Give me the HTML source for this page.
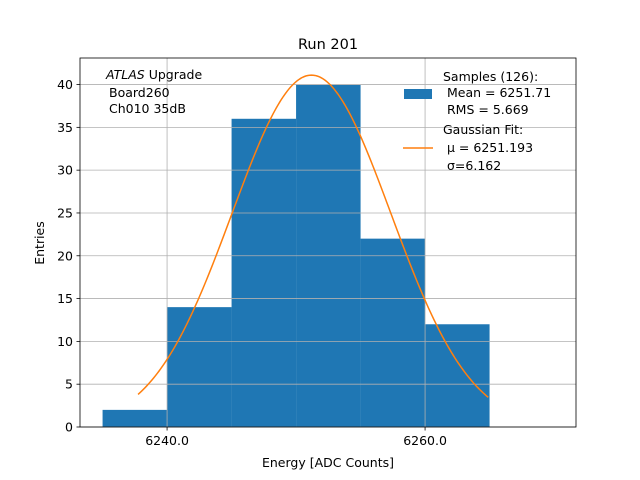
<!DOCTYPE html>
<html><head><meta charset="utf-8"><style>
body{margin:0;background:#fff}
svg{display:block;font-family:"DejaVu Sans","Liberation Sans",sans-serif}
</style></head><body>
<svg id="c" width="640" height="480"></svg>
<script>
const binEdges=[6235,6240,6245,6250,6255,6260,6265];
const binCounts=[2,14,36,40,22,12];
const xTicks=[6240,6260];
const xTickLabels=["6240.0","6260.0"];
const yTicks=[0,5,10,15,20,25,30,35,40];
const fitParams=[41.1,6251.193,6.162];
const fitRange=[6237.75,6264.9];
const NS="http://www.w3.org/2000/svg";
const svg=document.getElementById('c');
const L=80,R=576,T=58,B=427;
const xmin=6233.25,xmax=6271.7,ymin=0,ymax=43.1;
const X=v=>L+(v-xmin)/(xmax-xmin)*(R-L);
const Y=v=>B-(v-ymin)/(ymax-ymin)*(B-T);
function el(t,a,txt){const e=document.createElementNS(NS,t);for(const k in a)e.setAttribute(k,a[k]);if(txt!==undefined)e.textContent=txt;svg.appendChild(e);return e;}
for(let i=0;i<binCounts.length;i++){
const r=el('rect',{x:X(binEdges[i]),y:Y(binCounts[i]),width:X(binEdges[i+1])-X(binEdges[i]),height:B-Y(binCounts[i]),fill:'#1f77b4'});


}
for(const v of yTicks){
const g=el('line',{x1:L,x2:R,y1:Y(v),y2:Y(v),stroke:'#b0b0b0','stroke-width':0.8});


el('line',{x1:L-3.5,x2:L,y1:Y(v),y2:Y(v),stroke:'#000','stroke-width':0.8});
const t=el('text',{x:L-7,y:Y(v)+4.5,'font-size':12.5,'text-anchor':'end'},String(v));


}
xTicks.forEach((v,i)=>{
const g=el('line',{x1:X(v),x2:X(v),y1:T,y2:B,stroke:'#b0b0b0','stroke-width':0.8});


el('line',{x1:X(v),x2:X(v),y1:B,y2:B+3.5,stroke:'#000','stroke-width':0.8});
const t=el('text',{x:X(v),y:B+18,'font-size':12.5,'text-anchor':'middle'},xTickLabels[i]);


});
let pts=[];
for(let k=0;k<=200;k++){const x=fitRange[0]+(fitRange[1]-fitRange[0])*k/200;
const y=fitParams[0]*Math.exp(-Math.pow(x-fitParams[1],2)/(2*fitParams[2]*fitParams[2]));
pts.push(X(x).toFixed(2)+','+Y(y).toFixed(2));}
const fl=el('polyline',{points:pts.join(' '),fill:'none',stroke:'#ff7f0e','stroke-width':1.5});


const fr=el('rect',{x:L,y:T,width:R-L,height:B-T,fill:'none',stroke:'#000','stroke-width':0.8});


const tt=el('text',{x:328,y:49,'font-size':14.5,'text-anchor':'middle'},'Run 201');


const xl=el('text',{x:328,y:467,'font-size':12.5,'text-anchor':'middle'},'Energy [ADC Counts]');


const yl=el('text',{x:44,y:243,'font-size':12.5,'text-anchor':'middle',transform:'rotate(-90 44 243)'},'Entries');


const a1=el('text',{x:106,y:79,'font-size':12.5});
a1.innerHTML='<tspan font-style="italic">ATLAS</tspan> Upgrade';


const a2=el('text',{x:109,y:97,'font-size':12.5},'Board260');


const a3=el('text',{x:109,y:113,'font-size':12.5},'Ch010 35dB');


const lr=el('rect',{x:404,y:89,width:28,height:10,fill:'#1f77b4'});


const lines1=[['Samples (126):',443,81],['Mean = 6251.71',447,97],['RMS = 5.669',447,114],['Gaussian Fit:',443,134],['μ = 6251.193',447,152],['σ=6.162',447,170]];
lines1.forEach(([s,x,y])=>{const t=el('text',{x:x,y:y,'font-size':12.5},s);

});
const ll=el('line',{x1:403,x2:433,y1:148,y2:148,stroke:'#ff7f0e','stroke-width':1.5});


</script>
</body></html>
